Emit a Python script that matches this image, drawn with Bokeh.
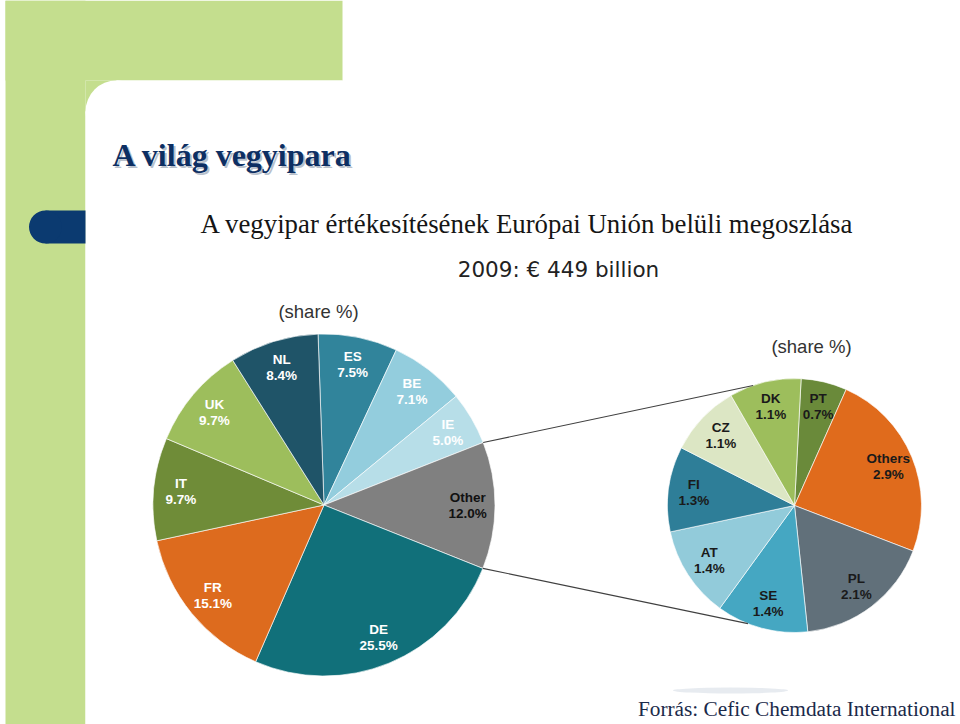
import numpy as np
from bokeh.plotting import figure
from bokeh.models import Range1d, ColumnDataSource
from bokeh.core.properties import value
from bokeh.embed import file_html
from bokeh.resources import INLINE

# ---------------- data ----------------
eu_countries = ["ES", "BE", "IE", "Other", "DE", "FR", "IT", "UK", "NL"]
eu_shares = [7.5, 7.1, 5.0, 12.0, 25.5, 15.1, 9.7, 9.7, 8.4]
eu_colors = ["#31849B", "#93CDDD", "#B7DEE8", "#808080", "#11707A",
             "#DD6B1E", "#6F8C38", "#9DBE5C", "#1F5468"]
eu_text_colors = ["white", "white", "white", "#111111", "white",
                  "white", "white", "white", "white"]

other_countries = ["PT", "Others", "PL", "SE", "AT", "FI", "CZ", "DK"]
other_shares = [0.7, 2.9, 2.1, 1.4, 1.4, 1.3, 1.1, 1.1]
other_colors = ["#6A8A3A", "#E06B1C", "#61707A", "#45A7C2", "#92CBDA",
                "#2E7E98", "#DCE6C4", "#9DBE5C"]

title_text = "A világ vegyipara"
subtitle_text = "A vegyipar értékesítésének Európai Unión belüli megoszlása"
total_text = "2009: € 449 billion"
share_text = "(share %)"
source_text = "Forrás: Cefic Chemdata International"

# ---------------- figure ----------------
W, H = 960, 724


def Y(py):
    # page pixel y -> data y
    return H - py


p = figure(width=W, height=H, x_range=Range1d(0, W), y_range=Range1d(0, H),
           output_backend="svg", toolbar_location=None,
           x_axis_type=None, y_axis_type=None, min_border=0)
p.grid.visible = False
p.outline_line_color = None
p.background_fill_color = "white"
p.border_fill_color = "white"

# ---------------- slide background ----------------
GREEN = "#C4DE8E"
NAVY = "#0B3A70"
p.quad(left=[5, 5, 85], right=[342, 85, 116], top=[Y(0), Y(0), Y(80)],
       bottom=[Y(80), Y(724), Y(111)], fill_color=GREEN, line_color=None)
p.circle(x=[116], y=[Y(111)], radius=31, radius_units="screen",
         fill_color="white", line_color=None)
p.quad(left=[116], right=[342], top=[Y(80)], bottom=[Y(111)],
       fill_color="white", line_color=None)
p.quad(left=[85], right=[116], top=[Y(111)], bottom=[Y(724)],
       fill_color="white", line_color=None)
# navy pill
p.quad(left=[45], right=[85], top=[Y(210)], bottom=[Y(243)],
       fill_color=NAVY, line_color=None)
p.circle(x=[45], y=[Y(226.5)], radius=16.5, radius_units="screen",
         fill_color=NAVY, line_color=None)
# faint shadow above the source line
p.ellipse(x=[730], y=[Y(690)], width=115, height=6, fill_color="#DDE3EA",
          fill_alpha=0.7, line_color=None)

# ---------------- texts ----------------
p.text(x=[114], y=[Y(156)], text=[title_text], text_font=value("Liberation Serif"),
       text_font_size="32px", text_font_style="bold", text_color="#9AA6B5",
       text_alpha=0.7, text_baseline="middle")
p.text(x=[112], y=[Y(154)], text=[title_text], text_font=value("Liberation Serif"),
       text_font_size="32px", text_font_style="bold", text_color="#0D2F63",
       text_baseline="middle")
p.text(x=[200], y=[Y(223.5)], text=[subtitle_text], text_font=value("Liberation Serif"),
       text_font_size="26.8px", text_color="#151515", text_baseline="middle")
p.text(x=[558], y=[Y(269)], text=[total_text], text_font=value("DejaVu Sans"),
       text_font_size="21.5px", text_color="#222222", text_align="center",
       text_baseline="middle")
p.text(x=[318, 811], y=[Y(311), Y(346)], text=[share_text, share_text],
       text_font=value("Liberation Sans"), text_font_size="18.5px",
       text_color="#333333", text_align="center", text_baseline="middle")
p.text(x=[955], y=[Y(708)], text=[source_text], text_font=value("Liberation Serif"),
       text_font_size="21.3px", text_color="#1B2A4A", text_align="right",
       text_baseline="middle")


# ---------------- pies ----------------
def pie(cx, cy, R, names, shares, colors, offset_deg, k_label, text_colors):
    s = np.array(shares, dtype=float)
    frac = s / s.sum()
    cum = np.concatenate([[0], np.cumsum(frac)])
    th0 = offset_deg + cum[:-1] * 360.0
    th1 = offset_deg + cum[1:] * 360.0
    src = ColumnDataSource(dict(
        start=np.radians(90 - th0), end=np.radians(90 - th1), color=colors))
    p.wedge(x=cx, y=Y(cy), radius=R, radius_units="screen",
            start_angle="start", end_angle="end", direction="clock",
            fill_color="color", line_color="white", line_width=0.8,
            line_alpha=0.8, source=src)
    mid = np.radians((th0 + th1) / 2)
    lx = cx + k_label * R * np.sin(mid)
    ly = Y(cy) + k_label * R * np.cos(mid)
    pct = ["%.1f%%" % v for v in shares]
    lsrc = ColumnDataSource(dict(x=lx, y1=ly + 8, y2=ly - 8, name=names, pct=pct,
                                 tc=text_colors))
    for ycol, tcol in (("y1", "name"), ("y2", "pct")):
        p.text(x="x", y=ycol, text=tcol, source=lsrc,
               text_font=value("Liberation Sans"), text_font_size="13.5px",
               text_font_style="bold", text_color="tc", text_align="center",
               text_baseline="middle")
    return th0, th1


BIG_C = (323.5, 504.5)
BIG_R = 171
SM_C = (794, 505)
SM_R = 127

b0, b1 = pie(BIG_C[0], BIG_C[1], BIG_R, eu_countries, eu_shares, eu_colors,
             -2.0, 0.84, eu_text_colors)
pie(SM_C[0], SM_C[1], SM_R, other_countries, other_shares, other_colors,
    3.0, 0.8, ["#1A1A1A"] * len(other_countries))

# connector lines from the "Other" slice edges to the secondary pie
oi = eu_countries.index("Other")
a_top, a_bot = np.radians(b0[oi]), np.radians(b1[oi])
end_top, end_bot = np.radians(341.0), np.radians(201.5)
xs = [[BIG_C[0] + BIG_R * np.sin(a_top), SM_C[0] + SM_R * np.sin(end_top)],
      [BIG_C[0] + BIG_R * np.sin(a_bot), SM_C[0] + SM_R * np.sin(end_bot)]]
ys = [[Y(BIG_C[1]) + BIG_R * np.cos(a_top), Y(SM_C[1]) + SM_R * np.cos(end_top)],
      [Y(BIG_C[1]) + BIG_R * np.cos(a_bot), Y(SM_C[1]) + SM_R * np.cos(end_bot)]]
p.multi_line(xs=xs, ys=ys, line_color="#404040", line_width=1.1)

open("out.html", "w").write(file_html(p, INLINE))
